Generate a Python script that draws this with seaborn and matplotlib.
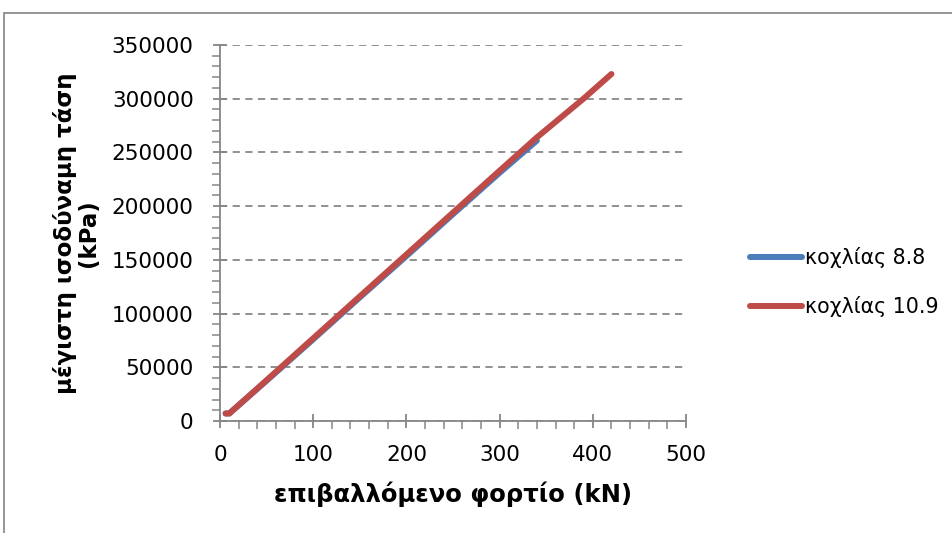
import numpy as np
import pandas as pd
import matplotlib
matplotlib.use("Agg")
import matplotlib.pyplot as plt
from matplotlib.patches import Rectangle
from matplotlib.ticker import MultipleLocator
import seaborn as sns

# Applied load (kN) and maximum equivalent stress (kPa) for each bolt grade
load_88 = [6, 10, 50, 100, 150, 200, 250, 300, 340]
stress_88 = [7000, 7000, 37500, 76000, 115000, 153500, 192500, 231000, 261000]

load_109 = [6, 10, 50, 100, 150, 200, 250, 300, 340, 390, 420]
stress_109 = [7000, 7000, 38000, 77000, 116000, 155000, 194000, 233000, 264000, 300000, 323000]

series_names = ["κοχλίας 8.8", "κοχλίας 10.9"]
series_colors = ["#4A7EBB", "#BE4B48"]

x_ticks = [0, 100, 200, 300, 400, 500]
y_ticks = [0, 50000, 100000, 150000, 200000, 250000, 300000, 350000]

df = pd.concat([
    pd.DataFrame({"load": load_88, "stress": stress_88, "series": series_names[0]}),
    pd.DataFrame({"load": load_109, "stress": stress_109, "series": series_names[1]}),
], ignore_index=True)

sns.set_style("white")
plt.rcParams["font.family"] = ["DejaVu Sans"]
plt.rcParams["text.color"] = "black"
plt.rcParams["axes.labelcolor"] = "black"

fig = plt.figure(figsize=(9.52, 5.33), dpi=100)
ax = fig.add_axes([220 / 952, 1 - 421 / 533, 466 / 952, 376 / 533])

sns.lineplot(data=df, x="load", y="stress", hue="series", hue_order=series_names,
             palette=series_colors, linewidth=4.3, sort=False, estimator=None,
             ax=ax, legend=False)
for ln in ax.get_lines():
    ln.set_solid_capstyle("round")
    ln.set_solid_joinstyle("round")

ax.set_xlim(0, 500)
ax.set_ylim(0, 350000)
ax.set_xticks(x_ticks)
ax.set_yticks(y_ticks)
ax.set_xticklabels([str(v) for v in x_ticks])
ax.set_yticklabels([str(v) for v in y_ticks])
ax.xaxis.set_minor_locator(MultipleLocator(20))
ax.yaxis.set_minor_locator(MultipleLocator(10000))

grid_gray = "#888888"
ax.yaxis.grid(True, which="major", linestyle=(0, (4, 3)), color=grid_gray, linewidth=1.3)
ax.xaxis.grid(False)
ax.set_axisbelow(True)

for side in ["top", "right"]:
    ax.spines[side].set_visible(False)
for side in ["left", "bottom"]:
    ax.spines[side].set_color("#868686")
    ax.spines[side].set_linewidth(1.3)

ax.tick_params(axis="both", which="both", bottom=True, left=True, top=False, right=False)
ax.tick_params(axis="both", which="major", direction="inout", length=10, width=1.3,
               color="#868686", labelsize=15.5, labelcolor="black")
ax.tick_params(axis="both", which="minor", direction="out", length=6, width=1.1,
               color="#868686")
ax.tick_params(axis="y", which="major", pad=14)
ax.tick_params(axis="x", which="major", pad=12)

ax.set_xlabel("επιβαλλόμενο φορτίο (kN)", fontsize=17.5, fontweight="bold", labelpad=12)
ax.set_ylabel("μέγιστη ισοδύναμη τάση\n(kPa)", fontsize=16.5, fontweight="bold",
              labelpad=8, linespacing=1.05)

# Legend to the right of the plot
handles = [plt.Line2D([], [], color=c, linewidth=4.3, solid_capstyle="round") for c in series_colors]
fig.legend(handles, series_names, loc="center left", bbox_to_anchor=(742 / 952, 1 - 282 / 533),
           frameon=False, fontsize=14.8, handlelength=2.5, handletextpad=0.15,
           labelspacing=1.35, borderaxespad=0, labelcolor="black")

# Outer chart frame
fig.patches.append(Rectangle((4 / 952, -0.1), 2.0, (533 - 13) / 533 + 0.1,
                             transform=fig.transFigure, fill=False,
                             edgecolor="#8c8c8c", linewidth=1.3, clip_on=False))

fig.savefig("out.png", dpi=100)
